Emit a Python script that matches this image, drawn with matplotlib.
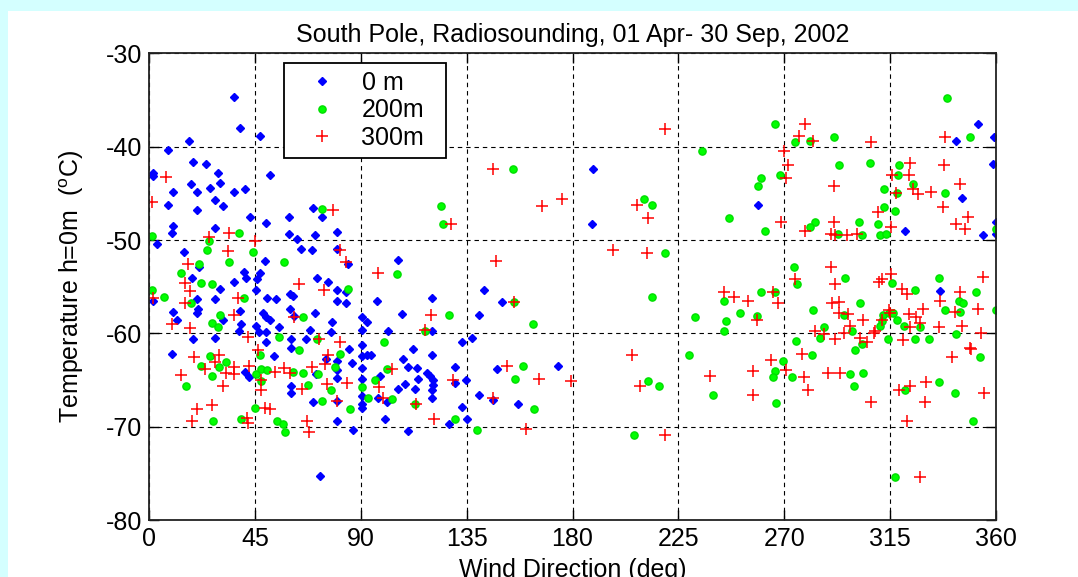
import matplotlib.pyplot as plt
from matplotlib.patches import Rectangle

# wind direction (deg) and temperature (C)
wd_0m = [36.1, 38.6, 47.1, 17.0, 8.1, 1.7, 1.7, 18.7, 24.4, 29.4,
         51.4, 18.0, 25.8, 30.1, 36.1, 40.9, 10.2, 20.6, 8.1, 27.9,
         31.5, 20.6, 10.2, 9.8, 27.9, 42.9, 49.6, 59.6, 69.8, 73.7,
         80.1, 59.6, 63.0, 70.5, 64.4, 69.1, 79.7, 84.6, 105.9, 3.2,
         14.9, 21.1, 18.3, 30.1, 36.1, 40.4, 41.2, 47.1, 45.9, 49.4,
         71.2, 76.1, 80.1, 83.6, 45.4, 59.9, 61.3, 1.7, 10.2, 12.1,
         18.7, 9.8, 20.2, 20.9, 20.4, 27.9, 27.9, 31.5, 38.6, 38.1,
         39.3, 50.0, 53.8, 45.4, 46.8, 48.5, 49.9, 51.4, 49.9, 49.6,
         53.2, 55.2, 59.9, 61.6, 60.3, 60.3, 40.7, 42.6, 60.3, 60.3,
         66.9, 68.4, 70.5, 69.8, 70.9, 80.1, 83.6, 77.6, 77.3, 75.4,
         80.0, 80.0, 80.0, 85.1, 86.3, 79.7, 79.7, 86.8, 90.4, 92.5,
         90.4, 90.4, 90.4, 90.4, 90.4, 90.4, 90.4, 90.4, 92.8, 94.5,
         98.1, 97.4, 100.3, 101.0, 101.7, 107.6, 97.1, 112.3, 108.0, 110.2,
         113.7, 114.4, 113.0, 108.8, 105.9, 110.2, 72.7, 120.4, 120.4, 120.4,
         118.0, 119.4, 120.8, 120.8, 120.4, 120.4, 132.9, 137.2, 130.1, 130.1,
         134.6, 132.9, 135.0, 127.6, 142.5, 149.9, 140.4, 148.0, 140.4, 146.1,
         157.0, 174.0, 188.9, 188.2, 259.0, 321.4, 345.6, 343.1, 352.2, 354.5,
         359.2, 358.6, 360.0, 360.0, 336.3]
t_0m = [-34.7, -38.0, -38.8, -39.4, -40.4, -42.8, -43.1, -41.6, -41.8, -42.8,
        -43.0, -44.0, -44.4, -43.9, -44.8, -44.5, -44.9, -44.9, -46.2, -45.7,
        -46.4, -46.8, -48.5, -49.2, -48.7, -47.5, -48.2, -47.5, -46.6, -47.5,
        -49.1, -49.4, -49.9, -49.5, -51.0, -51.1, -51.0, -52.6, -52.1, -50.4,
        -51.3, -52.9, -54.1, -55.3, -54.5, -53.4, -54.1, -53.5, -54.2, -52.2,
        -54.1, -54.5, -55.4, -55.6, -55.4, -55.8, -56.0, -56.5, -57.7, -58.6,
        -60.6, -62.2, -56.3, -57.4, -57.8, -56.3, -60.5, -58.6, -57.6, -59.7,
        -59.0, -56.2, -56.3, -59.2, -59.9, -57.8, -58.2, -58.6, -60.9, -59.9,
        -62.4, -59.3, -57.4, -58.1, -60.6, -61.6, -64.1, -64.7, -65.6, -66.4,
        -60.6, -59.6, -57.8, -67.4, -64.4, -56.5, -56.7, -58.8, -59.9, -62.8,
        -63.0, -63.9, -64.8, -61.7, -63.2, -67.2, -69.4, -70.4, -58.3, -58.8,
        -59.6, -61.2, -62.4, -63.7, -64.9, -66.7, -67.6, -68.0, -62.3, -62.3,
        -64.6, -66.9, -69.2, -67.4, -59.7, -57.9, -56.5, -61.7, -62.8, -63.6,
        -63.7, -64.9, -66.0, -65.4, -66.0, -70.5, -75.3, -56.2, -59.7, -62.3,
        -64.3, -64.6, -65.0, -65.5, -66.1, -66.9, -60.9, -60.5, -63.6, -65.3,
        -65.0, -67.9, -69.2, -69.7, -55.4, -56.6, -58.0, -63.8, -66.6, -67.1,
        -67.6, -63.5, -42.4, -48.3, -46.2, -49.0, -45.5, -39.4, -37.6, -49.5,
        -39.0, -41.9, -49.3, -48.1, -55.5]

wd_200m = [73.4, 38.2, 1.3, 25.6, 24.5, 44.3, 34.1, 57.5, 21.2, 13.5,
           21.9, 26.6, 1.3, 6.4, 84.7, 105.3, 17.8, 30.1, 26.6, 29.4,
           40.3, 65.5, 55.3, 63.8, 71.2, 81.1, 100.0, 25.9, 32.7, 22.0,
           29.7, 26.6, 15.7, 47.1, 45.4, 47.8, 50.0, 47.8, 61.0, 65.5,
           71.9, 67.7, 79.0, 77.2, 73.4, 85.4, 90.4, 93.2, 96.0, 101.3,
           103.4, 113.0, 45.0, 27.3, 39.3, 54.6, 56.8, 58.0, 154.9, 124.0,
           125.1, 210.4, 214.0, 219.4, 213.7, 235.0, 232.1, 127.5, 117.3, 155.3,
           163.1, 158.8, 155.6, 163.8, 130.1, 139.3, 206.3, 212.3, 216.9, 229.6,
           265.9, 274.4, 281.0, 291.2, 339.2, 348.8, 293.4, 306.3, 318.6, 318.3,
           260.2, 259.0, 268.0, 312.2, 324.7, 317.9, 338.4, 312.2, 317.2, 246.7,
           261.9, 282.9, 281.0, 301.6, 309.8, 292.8, 303.0, 310.8, 313.2, 274.2,
           295.9, 335.6, 275.4, 315.8, 260.2, 266.1, 244.6, 302.3, 325.7, 351.6,
           344.1, 345.8, 251.3, 258.4, 282.4, 245.3, 244.6, 287.1, 285.3, 295.5,
           298.8, 312.0, 314.4, 316.2, 311.5, 310.8, 317.9, 320.7, 327.5, 338.2,
           344.8, 314.1, 325.7, 331.6, 343.1, 303.0, 300.2, 275.0, 281.8, 269.4,
           266.1, 265.2, 273.5, 298.0, 303.4, 299.5, 353.1, 321.4, 335.6, 342.7,
           350.2, 239.7, 266.6, 317.2, 360.0, 360.0]
t_200m = [-46.7, -49.2, -49.6, -50.1, -51.1, -51.3, -52.3, -52.3, -52.6, -53.5,
          -54.6, -54.7, -55.4, -56.1, -55.3, -53.6, -56.8, -58.0, -58.9, -59.3,
          -56.2, -58.3, -60.4, -61.8, -60.6, -62.2, -60.9, -62.4, -63.1, -63.5,
          -63.6, -64.6, -65.6, -62.3, -64.4, -63.8, -63.9, -65.1, -64.1, -64.2,
          -64.4, -65.5, -63.6, -66.1, -67.3, -68.1, -65.7, -66.9, -65.0, -63.8,
          -67.0, -67.6, -68.0, -69.4, -69.2, -69.4, -69.7, -70.6, -42.4, -46.4,
          -48.3, -45.6, -46.2, -51.4, -56.1, -40.5, -58.3, -58.0, -59.7, -56.6,
          -59.0, -63.5, -64.9, -68.1, -69.2, -70.4, -70.9, -65.1, -65.6, -62.3,
          -37.6, -39.5, -39.4, -39.0, -34.8, -39.0, -42.0, -41.7, -42.0, -43.0,
          -43.3, -44.2, -43.0, -44.5, -44.0, -45.0, -45.0, -46.5, -46.9, -47.6,
          -49.0, -48.1, -48.6, -48.1, -48.3, -49.3, -49.5, -49.5, -49.4, -52.9,
          -54.1, -54.1, -54.7, -54.6, -55.6, -55.6, -56.5, -56.8, -55.4, -55.6,
          -56.5, -56.7, -57.8, -58.1, -57.5, -58.7, -59.7, -59.3, -60.5, -58.0,
          -59.8, -58.0, -57.8, -57.8, -58.7, -59.2, -58.6, -59.2, -59.3, -57.5,
          -57.7, -60.6, -60.6, -60.6, -60.1, -61.1, -61.8, -60.8, -62.3, -63.0,
          -64.0, -64.7, -64.7, -64.4, -64.2, -65.6, -62.5, -66.1, -65.2, -66.4,
          -69.4, -66.6, -67.5, -75.4, -48.8, -57.5]

wd_300m = [7.1, 1.3, 78.0, 25.6, 33.9, 45.0, 33.4, 81.2, 83.7, 16.4,
           97.2, 15.2, 17.6, 63.7, 74.5, 37.9, 1.7, 15.5, 9.8, 17.6,
           36.2, 61.6, 72.3, 81.2, 42.1, 46.4, 19.1, 29.8, 28.0, 23.7,
           36.2, 36.2, 32.7, 42.4, 13.5, 31.3, 47.8, 47.8, 53.5, 57.5,
           59.9, 69.1, 74.8, 75.9, 75.5, 64.9, 84.3, 80.0, 97.9, 99.3,
           103.4, 113.5, 117.3, 20.5, 26.6, 18.1, 41.5, 42.1, 49.5, 51.4,
           67.0, 68.0, 146.3, 219.4, 167.2, 175.4, 207.3, 212.3, 128.2, 197.1,
           211.6, 147.4, 155.3, 119.8, 152.0, 165.8, 179.4, 129.3, 146.3, 121.1,
           160.3, 205.5, 208.7, 219.4, 238.5, 278.9, 276.4, 282.4, 307.0, 338.5,
           270.0, 271.4, 270.7, 291.2, 323.6, 337.7, 315.8, 322.9, 317.6, 324.7,
           326.7, 332.4, 344.6, 337.5, 309.7, 348.1, 343.1, 347.0, 268.7, 278.9,
           291.2, 290.0, 291.4, 296.6, 300.9, 315.4, 289.8, 274.4, 315.4, 311.5,
           354.5, 291.7, 310.1, 320.0, 322.2, 244.6, 248.8, 254.5, 265.2, 267.3,
           258.4, 290.3, 293.1, 293.1, 297.3, 298.1, 303.4, 314.4, 315.1, 311.5,
           322.9, 326.1, 329.0, 327.8, 323.6, 336.1, 344.8, 342.7, 352.2, 345.6,
           335.6, 353.8, 282.9, 286.7, 291.4, 295.2, 302.3, 305.2, 308.0, 308.7,
           320.5, 348.8, 349.4, 341.3, 277.5, 264.3, 270.8, 256.9, 278.2, 280.1,
           288.8, 293.5, 256.9, 307.0, 318.6, 323.6, 330.4, 329.7, 322.2, 355.0,
           327.8]
t_300m = [-43.2, -45.9, -46.8, -49.7, -49.2, -50.1, -51.2, -51.1, -52.3, -52.6,
          -53.5, -54.6, -55.5, -54.7, -55.4, -56.2, -56.2, -56.8, -59.0, -59.4,
          -58.0, -58.3, -60.6, -60.9, -60.4, -61.8, -62.5, -62.3, -63.1, -63.8,
          -63.6, -64.4, -64.2, -63.5, -64.5, -65.6, -65.0, -66.1, -64.1, -63.7,
          -64.3, -63.6, -63.3, -62.3, -65.4, -66.0, -65.3, -67.3, -65.7, -66.9,
          -63.8, -67.6, -59.6, -68.1, -67.7, -69.4, -69.1, -69.6, -68.0, -68.1,
          -69.4, -70.6, -42.4, -38.1, -46.4, -45.6, -46.2, -47.6, -48.3, -51.1,
          -51.4, -52.2, -56.6, -58.0, -63.5, -64.9, -65.1, -65.0, -66.9, -69.2,
          -70.3, -62.3, -65.6, -70.9, -64.6, -37.6, -38.9, -39.4, -39.5, -39.0,
          -40.5, -42.0, -43.3, -44.2, -41.7, -42.0, -43.0, -43.0, -45.0, -44.5,
          -45.1, -44.9, -44.0, -46.5, -47.0, -47.5, -48.3, -48.8, -48.1, -49.0,
          -48.1, -49.4, -49.5, -49.5, -49.4, -48.6, -52.9, -54.2, -53.6, -54.2,
          -54.0, -54.7, -54.5, -55.3, -55.8, -55.6, -56.1, -56.5, -55.6, -56.7,
          -58.6, -56.7, -56.6, -57.8, -57.9, -59.2, -58.6, -57.5, -57.8, -58.6,
          -57.9, -58.3, -57.4, -58.9, -59.3, -56.5, -55.6, -57.7, -57.4, -59.2,
          -59.3, -60.0, -59.7, -60.1, -60.6, -60.0, -60.5, -60.9, -60.0, -59.8,
          -60.7, -61.6, -61.7, -62.5, -62.2, -62.9, -63.9, -64.0, -64.7, -66.1,
          -64.2, -64.3, -66.6, -67.4, -66.1, -65.6, -65.2, -67.4, -69.4, -66.4,
          -75.4]

x_ticks = [0, 45, 90, 135, 180, 225, 270, 315, 360]
y_ticks = [-80, -70, -60, -50, -40, -30]

plt.rcParams['font.family'] = ['Liberation Sans', 'DejaVu Sans']
plt.rcParams['axes.unicode_minus'] = False
plt.rcParams['mathtext.default'] = 'regular'

W, H = 1078, 577
fig = plt.figure(figsize=(W / 100, H / 100), dpi=100, facecolor='#d4ffff')
# white panel inside the light cyan border, kept behind the axes
fig.patches.append(Rectangle((8 / W, 0), 1, 1 - 11 / H, transform=fig.transFigure,
                             facecolor='white', edgecolor='none', zorder=-10))
ax = fig.add_axes([149 / W, 57 / H, 847 / W, 466.6 / H])

ax.plot(wd_0m, t_0m, 'D', color='#0000ff', ms=3.8, label='0 m')
ax.plot(wd_200m, t_200m, 'o', color='#00ff00', mec='#00dd00', ms=5.2, label='200m')
ax.plot(wd_300m, t_300m, '+', color='#ff0000', ms=8, mew=1.1, label='300m')

ax.set_xlim(0, 360)
ax.set_ylim(-80, -30)
ax.set_xticks(x_ticks)
ax.set_yticks(y_ticks)
ax.grid(True, color='black', linestyle=(0, (4, 3.5)), linewidth=0.8)
ax.tick_params(direction='in', length=7, width=1, top=True, right=True,
               labelsize=18, pad=5)
for s in ax.spines.values():
    s.set_linewidth(1.3)
    s.set_color('#222222')

ax.set_title('South Pole, Radiosounding, 01 Apr- 30 Sep, 2002', fontsize=18, pad=8)
ax.set_ylabel('Temperature h=0m  ($^o$C)', fontsize=18, labelpad=14)
ax.set_xlabel('Wind Direction (deg)', fontsize=18, labelpad=5)

# legend box spans x 284..446, y 63..158 px of the picture
leg = ax.legend(loc='upper left',
                bbox_to_anchor=(284 / W, 1 - 158 / H, 162 / W, 95 / H),
                bbox_transform=fig.transFigure, mode='expand', borderaxespad=0,
                fontsize=18, fancybox=False, framealpha=1, edgecolor='black',
                numpoints=1, handlelength=2.4, handletextpad=0.4, borderpad=0.3,
                labelspacing=0.15)
leg.get_frame().set_linewidth(1.3)

fig.savefig('out.png', dpi=100, facecolor=fig.get_facecolor())
